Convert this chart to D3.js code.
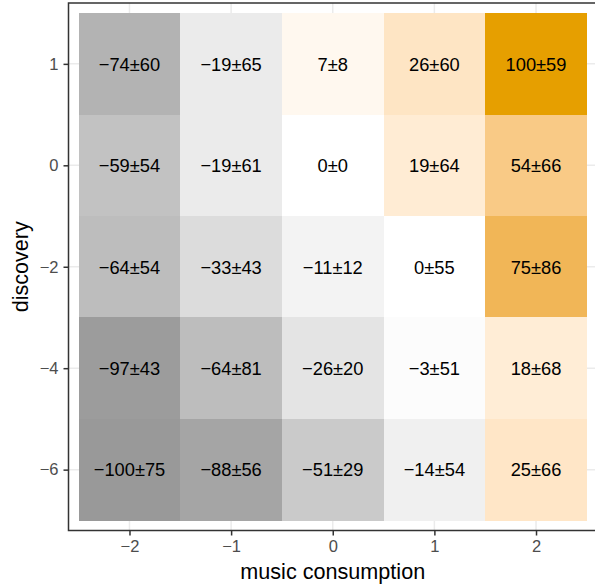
<!DOCTYPE html>
<html>
<head>
<meta charset="utf-8">
<script src="https://cdn.jsdelivr.net/npm/d3@7"></script>
<style>
  html, body { margin: 0; padding: 0; background: #fff; }
  svg { display: block; font-family: "Liberation Sans", Arial, sans-serif; }
</style>
</head>
<body>
<svg id="chart" width="595" height="584"></svg>
<script>
// x categories (music consumption) and y categories (discovery, top to bottom)
const xCats = ["−2", "−1", "0", "1", "2"];
const yCats = ["1", "0", "−2", "−4", "−6"];

// mean values per row (rows follow yCats, columns follow xCats)
const meanRow1  = [-74, -19, 7, 26, 100];
const meanRow0  = [-59, -19, 0, 19, 54];
const meanRowM2 = [-64, -33, -11, 0, 75];
const meanRowM4 = [-97, -64, -26, -3, 18];
const meanRowM6 = [-100, -88, -51, -14, 25];

// standard deviations per row
const sdRow1  = [60, 65, 8, 60, 59];
const sdRow0  = [54, 61, 0, 64, 66];
const sdRowM2 = [54, 43, 12, 55, 86];
const sdRowM4 = [43, 81, 20, 51, 68];
const sdRowM6 = [75, 56, 29, 54, 66];

const means = [meanRow1, meanRow0, meanRowM2, meanRowM4, meanRowM6];
const sds = [sdRow1, sdRow0, sdRowM2, sdRowM4, sdRowM6];

const cells = [];
yCats.forEach((yc, i) => {
  xCats.forEach((xc, j) => {
    cells.push({ x: xc, y: yc, m: means[i][j], s: sds[i][j] });
  });
});

const svg = d3.select("#chart");
const panel = { left: 68.5, top: 3, right: 597, bottom: 530.5 };

const x = d3.scalePoint().domain(xCats).range([panel.left, panel.right]).padding(0.6);
const y = d3.scalePoint().domain(yCats).range([panel.top, panel.bottom]).padding(0.6);
const sx = x.step(), sy = y.step();

const interpLow = d3.interpolateLab("#ffffff", "#999999");
const interpHigh = d3.interpolateLab("#ffffff", "#E69F00");
const color = v => v < 0 ? interpLow(-v / 100) : interpHigh(v / 100);

// panel background
svg.append("rect")
  .attr("x", panel.left).attr("y", panel.top)
  .attr("width", panel.right - panel.left).attr("height", panel.bottom - panel.top)
  .attr("fill", "#fff");

// grid lines
const grid = svg.append("g");
xCats.forEach(c => grid.append("line")
  .attr("x1", x(c)).attr("x2", x(c)).attr("y1", panel.top).attr("y2", panel.bottom)
  .attr("stroke", "#EBEBEB").attr("stroke-width", 1.5));
yCats.forEach(c => grid.append("line")
  .attr("y1", y(c)).attr("y2", y(c)).attr("x1", panel.left).attr("x2", panel.right)
  .attr("stroke", "#EBEBEB").attr("stroke-width", 1.5));

// tiles
svg.append("g").attr("shape-rendering", "crispEdges")
  .selectAll("rect").data(cells).join("rect")
  .attr("x", d => x(d.x) - sx / 2)
  .attr("y", d => y(d.y) - sy / 2)
  .attr("width", sx + 0.5)
  .attr("height", sy + 0.5)
  .attr("fill", d => color(d.m));

// labels
const fmt = v => (v < 0 ? "−" : "") + Math.abs(v);
svg.append("g").selectAll("text").data(cells).join("text")
  .attr("x", d => x(d.x))
  .attr("y", d => y(d.y))
  .attr("dy", "0.37em")
  .attr("text-anchor", "middle")
  .attr("font-size", "18.3px")
  .attr("fill", "#000")
  .text(d => fmt(d.m) + "±" + d.s);

// panel border
svg.append("rect")
  .attr("x", panel.left).attr("y", panel.top)
  .attr("width", panel.right - panel.left).attr("height", panel.bottom - panel.top)
  .attr("fill", "none").attr("stroke", "#333333").attr("stroke-width", 1.5);

// axes
const xAxis = d3.axisBottom(x).tickSize(5).tickPadding(5);
const gx = svg.append("g").attr("transform", `translate(0,${panel.bottom})`).call(xAxis);
gx.select(".domain").remove();
gx.selectAll(".tick line").attr("stroke", "#333333").attr("stroke-width", 1.5);
gx.selectAll(".tick text").attr("font-size", "16.5px").attr("fill", "#4D4D4D")
  .attr("font-family", "Liberation Sans, Arial, sans-serif");

const yAxis = d3.axisLeft(y).tickSize(5).tickPadding(5);
const gy = svg.append("g").attr("transform", `translate(${panel.left},0)`).call(yAxis);
gy.select(".domain").remove();
gy.selectAll(".tick line").attr("stroke", "#333333").attr("stroke-width", 1.5);
gy.selectAll(".tick text").attr("font-size", "16.5px").attr("fill", "#4D4D4D")
  .attr("font-family", "Liberation Sans, Arial, sans-serif");

// axis titles
svg.append("text")
  .attr("x", (panel.left + panel.right) / 2)
  .attr("y", 579)
  .attr("text-anchor", "middle")
  .attr("font-size", "21.6px")
  .attr("fill", "#000")
  .text("music consumption");

svg.append("text")
  .attr("transform", `translate(28,${(panel.top + panel.bottom) / 2}) rotate(-90)`)
  .attr("text-anchor", "middle")
  .attr("font-size", "21.6px")
  .attr("fill", "#000")
  .text("discovery");
</script>
</body>
</html>
